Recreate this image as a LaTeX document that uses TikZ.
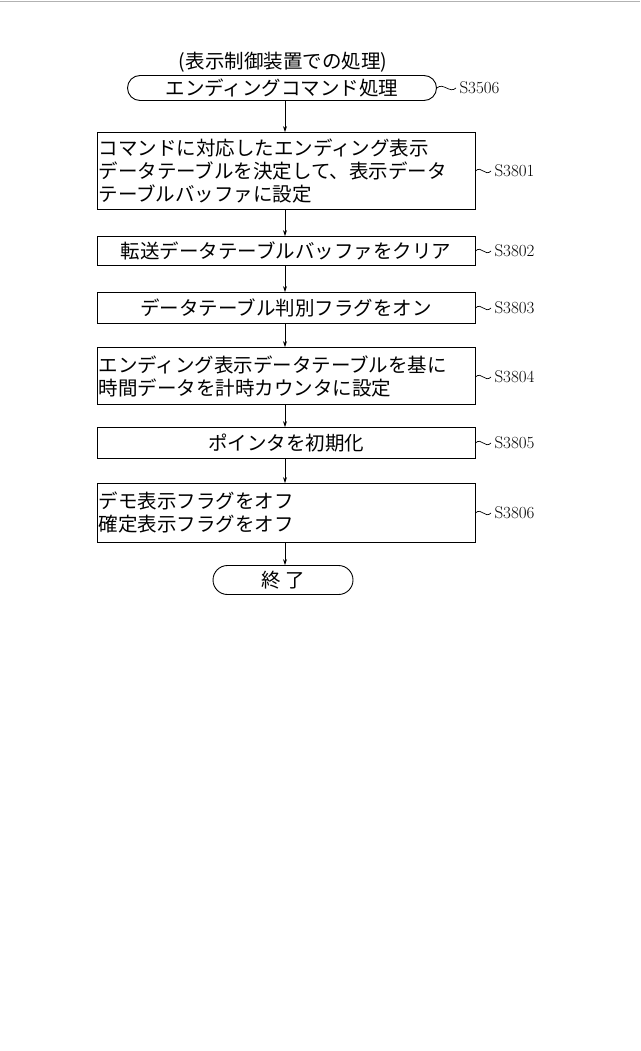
\documentclass[tikz,border=0pt]{standalone}
\usepackage{fontspec}
\newfontfamily\cjk{Noto Sans CJK JP}
\usetikzlibrary{shapes.misc,arrows.meta}
\begin{document}
\begin{tikzpicture}[x=1pt,y=-1pt,
 stepbox/.style={draw,line width=0.9pt,minimum width=378pt,inner sep=1pt},
 term/.style={draw,line width=0.9pt,rounded rectangle},
 txt/.style={font=\cjk\fontsize{19.5}{23}\selectfont},
 lab/.style={font=\fontsize{17}{20}\selectfont,anchor=west},
 arr/.style={-{Stealth[length=6pt,width=4pt]},line width=0.8pt},
 tie/.style={line width=0.7pt}]
\useasboundingbox (0,0) rectangle (640,1051);
\draw[gray!60,line width=0.6pt] (0,1) -- (640,1);
\node[txt] (title) at (283,62) {(表示制御装置での処理)};
\node[term,txt,minimum width=309pt,minimum height=25pt,inner sep=0pt] (s0) at (282,88) {エンディングコマンド処理};
\node[stepbox,txt,minimum height=77pt,align=left,text width=375pt] (s1) at (286,171) {コマンドに対応したエンディング表示\\データテーブルを決定して、表示データ\\テーブルバッファに設定};
\node[stepbox,txt,minimum height=29pt] (s2) at (286,251) {転送データテーブルバッファをクリア};
\node[stepbox,txt,minimum height=31pt] (s3) at (286,308) {データテーブル判別フラグをオン};
\node[stepbox,txt,minimum height=57pt,align=left,text width=375pt] (s4) at (286,376) {エンディング表示データテーブルを基に\\時間データを計時カウンタに設定};
\node[stepbox,txt,minimum height=31pt] (s5) at (286,443) {ポインタを初期化};
\node[stepbox,txt,minimum height=59pt,align=left,text width=375pt] (s6) at (286,513) {デモ表示フラグをオフ\\確定表示フラグをオフ};
\node[term,txt,minimum width=140pt,minimum height=29pt,inner sep=0pt] (e) at (283,580) {終\ 了};
\foreach \a/\b in {s0/s1,s1/s2,s2/s3,s3/s4,s4/s5,s5/s6,s6/e}
 \draw[arr] (\a.south -| 285,0) -- (\b.north -| 285,0);
\foreach \n/\l/\y/\x in {s0/S3506/88/456,s1/S3801/171/491,s2/S3802/251/491,s3/S3803/308/491,s4/S3804/377/491,s5/S3805/443/491,s6/S3806/513/491}{
 \node[lab] (l\n) at (\x,\y) {\l};
 \draw[tie] (\n.east |- 0,\y) .. controls +(6,-6) and +(-6,6) .. (l\n.west);
}
\end{tikzpicture}
\end{document}
